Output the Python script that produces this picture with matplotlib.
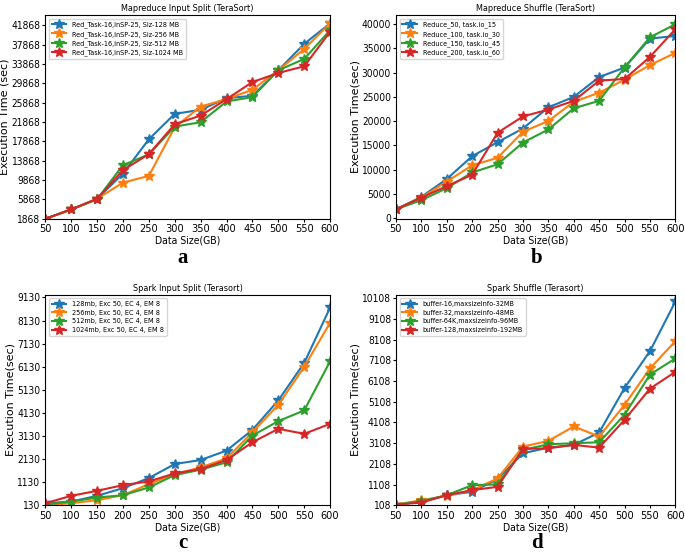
import numpy as np
import matplotlib
matplotlib.use("Agg")
import matplotlib.pyplot as plt

plt.rcParams["font.family"] = "DejaVu Sans"
plt.rcParams["font.stretch"] = "condensed"

sizes = [50, 100, 150, 200, 250, 300, 350, 400, 450, 500, 550, 600]

# (a) Mapreduce input split
mr_split_labels = ["Red_Task-16,InSP-25, Siz-128 MB", "Red_Task-16,InSP-25, Siz-256 MB",
                   "Red_Task-16,InSP-25, Siz-512 MB", "Red_Task-16,InSP-25, Siz-1024 MB"]
mr_split_128 = [1868, 3800, 6000, 11200, 18300, 23560, 24400, 26800, 27300, 32570, 38040, 42270]
mr_split_256 = [1868, 3800, 6000, 9350, 10740, 20800, 25080, 26600, 28550, 32570, 37000, 42270]
mr_split_512 = [1868, 3800, 5880, 12960, 15170, 20930, 21830, 26120, 27030, 32570, 34920, 40880]
mr_split_1024 = [1868, 3800, 6000, 11920, 15240, 21410, 23210, 26600, 30140, 32010, 33400, 40540]

# (b) Mapreduce shuffle
mr_shuffle_labels = ["Reduce_50, task.io_15", "Reduce_100, task.io_30",
                     "Reduce_150, task.io_45", "Reduce_200, task.io_60"]
mr_shuffle_50 = [1800, 4370, 8060, 12770, 15660, 18480, 22850, 25000, 29100, 31050, 37030, 37560]
mr_shuffle_100 = [1800, 4230, 7530, 10890, 12430, 17810, 20030, 23990, 25870, 28560, 31580, 34070]
mr_shuffle_150 = [1800, 3700, 6180, 9410, 11090, 15590, 18280, 22650, 24190, 31110, 37300, 39980]
mr_shuffle_200 = [1800, 4230, 6590, 8940, 17600, 20970, 22380, 24190, 28360, 28690, 33260, 38980]

# (c) Spark input split
sp_split_labels = ["128mb, Exc 50, EC 4, EM 8", "256mb, Exc 50, EC 4, EM 8",
                   "512mb, Exc 50, EC 4, EM 8", "1024mb, Exc 50, EC 4, EM 8"]
sp_split_128 = [217, 290, 537, 870, 1306, 1916, 2090, 2497, 3397, 4675, 6300, 8700]
sp_split_256 = [130, 217, 348, 565, 1045, 1480, 1770, 2160, 3295, 4486, 6127, 8040]
sp_split_512 = [160, 290, 464, 565, 900, 1437, 1670, 1990, 3150, 3775, 4240, 6374]
sp_split_1024 = [217, 537, 754, 1001, 1161, 1509, 1698, 2090, 2860, 3440, 3223, 3659]

# (d) Spark shuffle
sp_shuffle_labels = ["buffer-16,maxsizeinfo-32MB", "buffer-32,maxsizeinfo-48MB",
                     "buffer-64K,maxsizeinfo-96MB", "buffer-128,maxsizeinfo-192MB"]
sp_shuffle_16 = [140, 270, 593, 755, 1370, 2616, 2890, 3020, 3620, 5771, 7550, 9945]
sp_shuffle_32 = [140, 350, 560, 836, 1400, 2940, 3215, 3910, 3425, 4960, 6710, 8036]
sp_shuffle_64 = [140, 302, 593, 1079, 1111, 2777, 3053, 3100, 3150, 4477, 6418, 7195]
sp_shuffle_128 = [140, 237, 593, 836, 998, 2826, 2858, 3020, 2890, 4234, 5739, 6548]

colors = ["#1f77b4", "#ff7f0e", "#2ca02c", "#d62728"]

fig = plt.figure(figsize=(6.85, 5.54), dpi=100)


def panel(rect, title, labels, series, yticks, ylim, ylabel):
    ax = fig.add_axes(rect)
    for lab, s, c in zip(labels, series, colors):
        ax.plot(sizes, s, color=c, marker="*", markersize=7.5, linewidth=1.5, label=lab)
    ax.set_xlim(50, 600)
    ax.set_xticks(sizes)
    ax.set_yticks(yticks)
    ax.set_ylim(ylim)
    ax.tick_params(axis="x", labelsize=7.8, length=2.5, pad=1.5)
    ax.tick_params(axis="y", labelsize=7.3, length=2.5, pad=1)
    ax.set_title(title, fontsize=6.5, pad=3)
    ax.set_xlabel("Data Size(GB)", fontsize=7.5, labelpad=1)
    ax.set_ylabel(ylabel, fontsize=8, fontstretch="normal", labelpad=1)
    ax.legend(loc="upper left", fontsize=5.2, handlelength=2, borderpad=0.4,
              labelspacing=0.35, framealpha=0.8)
    return ax


panel([0.066, 0.605, 0.416, 0.368], "Mapreduce Input Split (TeraSort)", mr_split_labels,
      [mr_split_128, mr_split_256, mr_split_512, mr_split_1024],
      np.arange(1868, 41869, 4000), (1868, 44000), "Execution Time (sec)")
panel([0.578, 0.605, 0.408, 0.368], "Mapreduce Shuffle (TeraSort)", mr_shuffle_labels,
      [mr_shuffle_50, mr_shuffle_100, mr_shuffle_150, mr_shuffle_200],
      np.arange(0, 40001, 5000), (-150, 41900), "Execution Time(sec)")
panel([0.066, 0.088, 0.416, 0.38], "Spark Input Split (Terasort)", sp_split_labels,
      [sp_split_128, sp_split_256, sp_split_512, sp_split_1024],
      np.arange(130, 9131, 1000), (130, 9250), "Execution Time(sec)")
panel([0.578, 0.088, 0.408, 0.38], "Spark Shuffle (Terasort)", sp_shuffle_labels,
      [sp_shuffle_16, sp_shuffle_32, sp_shuffle_64, sp_shuffle_128],
      np.arange(108, 10109, 1000), (108, 10270), "Execution Time(sec)")

for letter, x, y in [("a", 183 / 685, 1 - 258 / 554), ("b", 537 / 685, 1 - 258 / 554),
                     ("c", 183 / 685, 1 - 543 / 554), ("d", 537 / 685, 1 - 543 / 554)]:
    fig.text(x, y, letter, fontsize=15, fontweight="bold", family="Liberation Serif",
             fontstretch="normal", ha="center", va="center")

fig.savefig("out.png", dpi=100)
